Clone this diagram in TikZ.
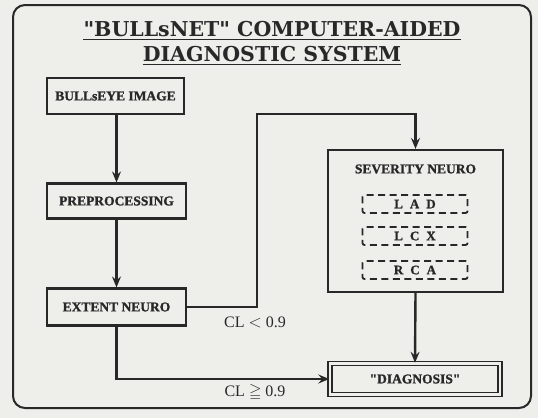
\documentclass[tikz,border=0pt]{standalone}
\usepackage{fontspec}
\usepackage{amssymb}
\setmainfont{Liberation Serif}[BoldFeatures={FakeBold=1.2}]
\newfontfamily\titlefont{DejaVu Serif}
\usetikzlibrary{arrows.meta}
\definecolor{paper}{RGB}{238,238,235}
\definecolor{ink}{RGB}{40,40,40}
\tikzset{
  box/.style={draw=ink, line width=2.2pt, rectangle, inner sep=0pt, font=\bfseries\fontsize{13.5}{15}\selectfont, text=ink},
  dbox/.style={draw=ink, line width=1.8pt, rectangle, rounded corners=2pt, dash pattern=on 7pt off 4.5pt, inner sep=0pt, minimum width=105pt, minimum height=18pt, font=\bfseries\fontsize{13}{15}\selectfont, text=ink},
  conn/.style={draw=ink, line width=2.4pt},
  arr/.style={draw=ink, line width=2.4pt, -{Stealth[length=11pt,width=9pt,inset=4pt]}},
  lbl/.style={font=\fontsize{16}{18}\selectfont, text=ink, inner sep=0pt},
  ttl/.style={font=\titlefont\bfseries\fontsize{20.5}{24}\selectfont, text=ink, inner sep=0pt, anchor=base}
}
\begin{document}
\begin{tikzpicture}[x=1pt,y=-1pt]
\fill[paper] (0,0) rectangle (538,418);
\useasboundingbox (0,0) rectangle (538,418);
\draw[draw=ink, line width=2pt, rounded corners=12pt] (13,5) rectangle (531,408);
% title
\node[ttl] (t1) at (272,36) {"BULLsNET" COMPUTER-AIDED};
\node[ttl] (t2) at (272,61) {DIAGNOSTIC SYSTEM};
\draw[conn, line width=1.6pt] ([yshift=-3.5pt]t1.base west) -- ([yshift=-3.5pt]t1.base east);
\draw[conn, line width=1.6pt] ([yshift=-3.5pt]t2.base west) -- ([yshift=-3.5pt]t2.base east);
% boxes
\node[box, minimum width=137pt, minimum height=36pt] (bull) at (115.5,96) {BULLsEYE IMAGE};
\node[box, minimum width=139pt, minimum height=35pt] (pre) at (116.5,201) {PREPROCESSING};
\node[box, minimum width=139pt, minimum height=37pt] (ext) at (116.5,307) {EXTENT NEURO};
\node[box, minimum width=175pt, minimum height=142pt] (sev) at (415.5,221) {};
\node[box, draw=none] (sevt) at (415.5,169) {SEVERITY NEURO};
\node[dbox] (lad) at (415,204) {L\hspace{7pt}A\hspace{7pt}D};
\node[dbox] (lcx) at (415,236) {L\hspace{7pt}C\hspace{7pt}X};
\node[dbox] (rca) at (415,270) {R\hspace{7pt}C\hspace{7pt}A};
\node[box, double=paper, double distance=2.2pt, line width=1.5pt, minimum width=170pt, minimum height=31pt] (diag) at (415,379) {\textquotedbl DIAGNOSIS\textquotedbl};
\coordinate (c1) at (257,114);
% connectors
\draw[arr] (bull.south -| pre.north) -- (pre.north);
\draw[arr] (pre.south) -- (ext.north);
\draw[arr] (ext.east) -| (c1) -| (sev.north);
\draw[arr] (sev.south) -- (diag.north);
\draw[arr] (ext.south) |- (diag.west);
% labels
\node[lbl] (cl1) at (255,322) {CL $<$ 0.9};
\node[lbl] (cl2) at (255,392) {CL $\geqq$ 0.9};
\end{tikzpicture}
\end{document}
